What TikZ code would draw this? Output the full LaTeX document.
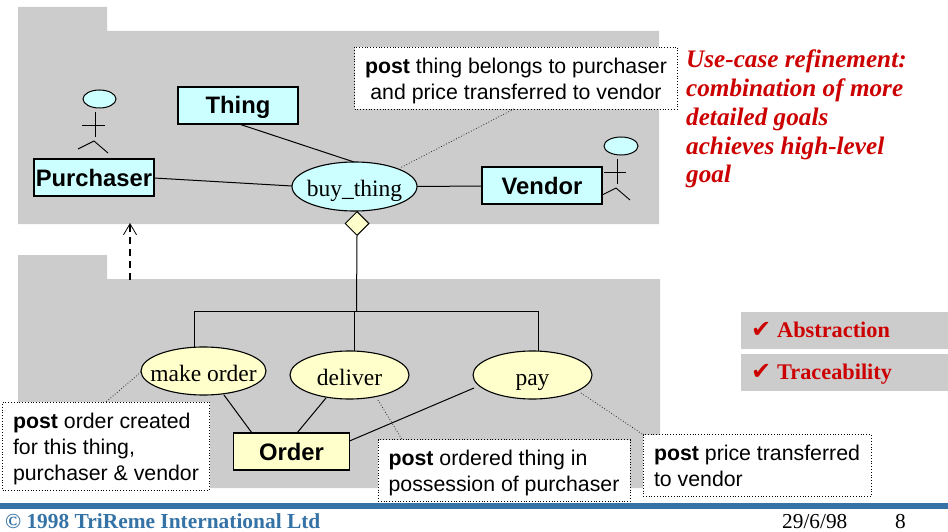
\documentclass[tikz,border=0pt]{standalone}
\usepackage{fontspec}
\setmainfont{Liberation Serif}
\setsansfont{Liberation Sans}
\newfontfamily\dejavu{DejaVu Sans}
\usetikzlibrary{shapes.geometric,arrows.meta}
\definecolor{pkg}{HTML}{CCCCCC}
\definecolor{cy}{HTML}{CCFFFF}
\definecolor{ye}{HTML}{FFFFCC}
\definecolor{rd}{HTML}{CC0000}
\definecolor{bl}{HTML}{3572A5}
\newcommand{\topstrut}{\rule{0pt}{21pt}}
\tikzset{
  x=1pt,y=-1pt,
  cls/.style={draw=black,line width=1.2pt,inner sep=0pt,minimum height=37pt,text height=21.5pt,text depth=4.5pt,font=\sffamily\bfseries\fontsize{23.8}{26}\selectfont},
  uc/.style={ellipse,draw=black,line width=1.1pt,inner sep=0pt},
  uclabel/.style={inner sep=0pt,text height=22pt,text depth=2pt,font=\fontsize{23.5}{26}\selectfont},
  note/.style={draw=black,dotted,line width=0.8pt,fill=white,inner sep=0pt,font=\sffamily\fontsize{21.3}{26}\selectfont,text=black},
  link/.style={draw=black,line width=1pt},
  dotlink/.style={draw=black!85,dotted,line width=0.8pt},
  stick/.style={draw=black,line width=0.9pt},
  badge/.style={fill=pkg,inner sep=0pt,minimum width=207pt,minimum height=37pt,anchor=north west},
  badgetext/.style={anchor=base west,inner sep=0pt,text=rd,font=\bfseries\fontsize{22.3}{24}\selectfont},
  foot/.style={anchor=base west,inner sep=0pt,font=\fontsize{21.3}{24}\selectfont},
}
\newcommand{\tick}{\makebox[26pt][l]{\dejavu\fontsize{24}{24}\selectfont ✔}}
\begin{document}
\begin{tikzpicture}
\useasboundingbox (0,0) rectangle (948,532);
% packages
\fill[pkg] (18,7) -- (107,7) -- (107,31) -- (659,31) -- (659,224) -- (18,224) -- cycle;
\fill[pkg] (18,255) -- (107,255) -- (107,279) -- (660,279) -- (660,488) -- (18,488) -- cycle;
% footer band
\fill[bl] (0,503) rectangle (948,509);
% nodes
\node[cls,fill=cy,minimum width=120pt] (thing) at (238,105.5) {Thing};
\node[cls,fill=cy,minimum width=120pt] (purchaser) at (94,177.5) {Purchaser};
\node[cls,fill=cy,minimum width=120pt] (vendor) at (542,185.5) {Vendor};
\node[uc,fill=cy,minimum width=125pt,minimum height=49pt,label={[uclabel]center:buy\_thing}] (buy) at (354.5,186.5) {};
\node[diamond,draw=black,line width=1pt,fill=ye,inner sep=0pt,minimum width=24pt,minimum height=24pt] (dia) at (357,223.5) {};
\node[uc,fill=ye,minimum width=125pt,minimum height=48pt,label={[uclabel]center:make order}] (mo) at (203.5,371) {};
\node[uc,fill=ye,minimum width=119pt,minimum height=48pt,label={[uclabel]center:deliver}] (del) at (349.5,375) {};
\node[uc,fill=ye,minimum width=119pt,minimum height=48pt,label={[uclabel]center:pay}] (pay) at (532.5,375) {};
\node[cls,fill=ye,minimum width=116pt] (order) at (291.5,451.5) {Order};
% notes
\node[note,minimum width=323pt,minimum height=62pt,align=center] (n1) at (516,78) {\topstrut\textbf{post} thing belongs to purchaser\\and price transferred to vendor};
\node[note,minimum width=207pt,minimum height=88pt,align=left] (n2) at (106,446) {\topstrut\textbf{post} order created\\for this thing,\\purchaser \& vendor};
\node[note,minimum width=252pt,minimum height=62pt,align=left] (n3) at (504,470.5) {\topstrut\textbf{post} ordered thing in\\possession of purchaser};
\node[note,minimum width=228pt,minimum height=62pt,align=left] (n4) at (757,465.5) {\rule{0pt}{17pt}\textbf{post} price transferred\\to vendor};
% free ends
\coordinate (t1) at (239,124);
\coordinate (b1) at (354,162);
\coordinate (p1) at (154,178);
\coordinate (b2) at (292,186);
\coordinate (b3) at (417,186.5);
\coordinate (v1) at (482,186);
\coordinate (n1a) at (514,109);
\coordinate (b4) at (400,168);
\coordinate (j0) at (356.5,311);
\coordinate (j1) at (194.5,311);
\coordinate (j2) at (354,311);
\coordinate (j3) at (538.5,311);
\coordinate (mo1) at (194.5,347);
\coordinate (del1) at (354,351);
\coordinate (pay1) at (538.5,351);
\coordinate (mo2) at (224,395);
\coordinate (o1) at (252,433);
\coordinate (del2) at (326,398);
\coordinate (o2) at (297,433);
\coordinate (pay2) at (474,388);
\coordinate (o3) at (349.5,441);
\coordinate (mo3) at (141,372);
\coordinate (n2a) at (106,402);
\coordinate (del3) at (378,400);
\coordinate (n3a) at (402,439.5);
\coordinate (pay3) at (581,393);
\coordinate (n4a) at (643,434.5);
\coordinate (dash0) at (130,280);
\coordinate (dash1) at (130,223);
% connectors
\draw[link] (t1) -- (b1);
\draw[link] (p1) -- (b2);
\draw[link] (b3) -- (v1);
\draw[link] (dia.south) -- (j0);
\draw[link] (mo1) -- (j1) -- (j3) -- (pay1);
\draw[link] (j2) -- (del1);
\draw[link] (mo2) -- (o1);
\draw[link] (del2) -- (o2);
\draw[link] (pay2) -- (o3);
\draw[dotlink] (n1a) -- (b4);
\draw[dotlink] (mo3) -- (n2a);
\draw[dotlink] (del3) -- (n3a);
\draw[dotlink] (pay3) -- (n4a);
\draw[line width=1.3pt,dash pattern=on 7pt off 5pt,-{Straight Barb[length=11pt,width=13pt,line width=0.8pt]}] (dash0) -- (dash1);
% actors
\node[ellipse,draw=black,line width=1pt,fill=cy,inner sep=0pt,minimum width=33pt,minimum height=18pt] (head1) at (99.5,99) {};
\draw[stick] (95,112) -- (95,137);
\draw[stick] (82,125) -- (105,125);
\draw[stick] (78,149) -- (94,141) -- (108,153);
\node[ellipse,draw=black,line width=1pt,fill=cy,inner sep=0pt,minimum width=34pt,minimum height=18pt] (head2) at (621,146) {};
\draw[stick] (617.5,159) -- (617.5,183.5);
\draw[stick] (604,172) -- (626,172);
\draw[stick] (601,195.5) -- (616,188) -- (630,200);
% red text
\node[anchor=north west,inner sep=0pt,align=left,text=rd,font=\bfseries\itshape\fontsize{25.2}{28.7}\selectfont] (goal) at (686,50) {Use-case refinement:\\combination of more\\detailed goals\\achieves high-level\\goal};
% badges
\node[badge] (ab) at (741,312) {};
\node[badge] (tr) at (741,354) {};
\node[badgetext] (abt) at (751,337) {\tick Abstraction};
\node[badgetext] (trt) at (751,379) {\tick Traceability};
% footer
\node[foot,text=bl,font=\bfseries\fontsize{21.4}{24}\selectfont] (copy) at (5,528) {© 1998 TriReme International Ltd};
\node[foot] (date) at (782,528) {29/6/98};
\node[foot] (num) at (895,528) {8};
\end{tikzpicture}
\end{document}
